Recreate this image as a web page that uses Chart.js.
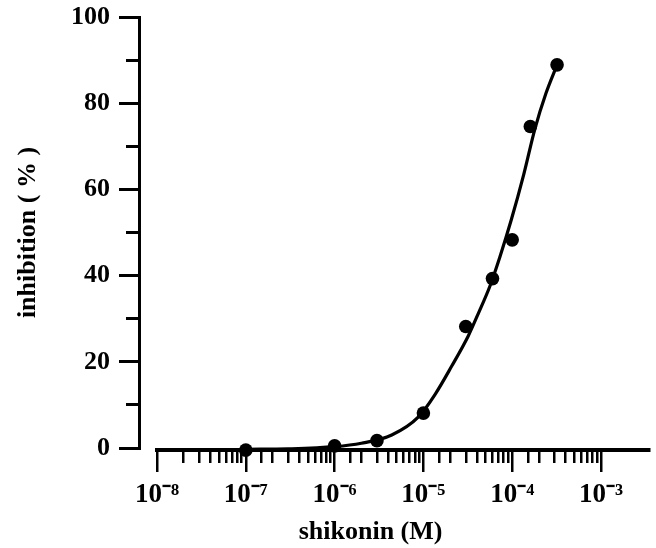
<!DOCTYPE html>
<html>
<head>
<meta charset="utf-8">
<script src="https://cdn.jsdelivr.net/npm/chart.js@4.4.1/dist/chart.umd.min.js"></script>
<style>
  html, body { margin: 0; padding: 0; background: #fff; }
  #wrap { width: 656px; height: 548px; }
</style>
</head>
<body>
<div id="wrap"><canvas id="c" width="656" height="548"></canvas></div>
<script>
// ---- data ----
const concM          = [1e-7, 1e-6, 3e-6, 1e-5, 3e-5, 6e-5, 1e-4, 1.6e-4, 3.2e-4];
const inhibitionPct  = [-0.5, 0.5, 1.7, 8.1, 28.2, 39.3, 48.3, 74.6, 88.9];

// fitted curve
const fitConcM = [1e-7, 3e-7, 1e-6, 2e-6, 4.4e-6, 8.8e-6, 1.35e-5, 2.07e-5, 3.2e-5, 4.15e-5, 5.62e-5, 7.28e-5, 9.75e-5, 1.35e-4, 1.8e-4, 2.4e-4, 3.2e-4];
const fitPct   = [-0.3, -0.2, 0.3, 1.1, 3.0, 7.2, 12.4, 18.9, 26.0, 31.2, 37.6, 44.4, 52.9, 63.5, 74.0, 82.3, 88.9];

const xDecadeExps  = [-8, -7, -6, -5, -4, -3];
const yTickLabels  = [0, 20, 40, 60, 80, 100];
const xTitle = 'shikonin (M)';
const yTitle = 'inhibition ( % )';

// ---- helpers ----
const SUP = {'-':'\u207B','0':'\u2070','1':'\u00B9','2':'\u00B2','3':'\u00B3','4':'\u2074','5':'\u2075','6':'\u2076','7':'\u2077','8':'\u2078','9':'\u2079'};
const sup = s => String(s).split('').map(c => SUP[c] || c).join('');
const decadeOf = v => {
  const l = Math.log10(v);
  const r = Math.round(l);
  return Math.abs(l - r) < 1e-6 ? r : null;
};
const FONT_FAMILY = "'Liberation Serif', 'Times New Roman', Times, serif";

const positionAxes = {
  id: 'positionAxes',
  afterLayout(chart) {
    const {x, xt, y} = chart.scales;
    const ca = chart.chartArea;
    y.left = 0; y.right = ca.left - 18; y.width = y.right - y.left;
    x.top = ca.bottom + 2; x.bottom = x.top + 58; x.height = 58;
    xt.top = 508; xt.bottom = 548; xt.height = 40;
    xt.left = 92; xt.right = ca.right; xt.width = xt.right - xt.left;
    [x, xt, y].forEach(s => { s._labelItems = null; s._gridLineItems = null; });
  }
};

new Chart(document.getElementById('c'), {
  data: {
    datasets: [
      {
        type: 'line',
        data: fitConcM.map((v, i) => ({x: v, y: fitPct[i]})),
        borderColor: '#000',
        borderWidth: 3.2,
        pointRadius: 0,
        fill: false,
        cubicInterpolationMode: 'monotone',
        clip: false,
        order: 2
      },
      {
        type: 'scatter',
        data: concM.map((v, i) => ({x: v, y: inhibitionPct[i]})),
        backgroundColor: '#000',
        borderColor: '#000',
        pointRadius: 6.8,
        pointBorderWidth: 0,
        clip: false,
        order: 1
      }
    ]
  },
  plugins: [positionAxes],
  options: {
    responsive: false,
    animation: false,
    devicePixelRatio: 1,
    layout: { padding: { top: 0, right: 6, left: 0, bottom: 0 } },
    plugins: { legend: { display: false }, tooltip: { enabled: false } },
    scales: {
      x: {
        type: 'logarithmic',
        position: 'bottom',
        min: 1e-8,
        max: 3.49e-3,
        afterFit: s => { s.height = 60; },
        afterBuildTicks: s => {
          s.ticks = s.ticks.filter(t => t.value >= 0.9999e-8 && t.value <= 1.0001e-3);
        },
        border: { display: true, color: '#000', width: 4 },
        grid: {
          drawOnChartArea: false,
          color: '#000',
          lineWidth: 2.5,
          tickWidth: 2.5,
          tickLength: 22,
          tickBorderDash: ctx => (ctx.tick && decadeOf(ctx.tick.value) !== null) ? [] : [11, 100]
        },
        ticks: {
          autoSkip: false,
          maxRotation: 0,
          padding: 7,
          color: '#000',
          font: { family: FONT_FAMILY, size: 27, weight: 'bold' },
          callback: v => {
            const e = decadeOf(v);
            return (e !== null && xDecadeExps.includes(e)) ? '10' + sup(e) : '';
          }
        },
        title: { display: false }
      },
      xt: {
        type: 'linear',
        axis: 'x',
        position: 'bottom',
        afterFit: s => { s.height = 40; },
        border: { display: false },
        grid: { display: false, drawTicks: false },
        ticks: { display: false },
        title: {
          display: true,
          text: xTitle,
          color: '#000',
          font: { family: FONT_FAMILY, size: 26, weight: 'bold' },
          padding: { top: 0, bottom: 0 }
        }
      },
      y: {
        type: 'linear',
        position: 'left',
        min: 0,
        max: 100,
        afterFit: s => { s.width = 157; s.paddingTop = 17; s.paddingBottom = 0; },
        border: { display: true, color: '#000', width: 3 },
        grid: {
          drawOnChartArea: false,
          color: '#000',
          lineWidth: 3,
          tickWidth: 3,
          tickLength: 20,
          tickBorderDash: ctx => (ctx.tick && yTickLabels.includes(ctx.tick.value)) ? [] : [0, 7, 12, 100]
        },
        ticks: {
          stepSize: 10,
          autoSkip: false,
          padding: 9,
          color: '#000',
          font: { family: FONT_FAMILY, size: 26, weight: 'bold' },
          callback: v => yTickLabels.includes(v) ? String(v) : ''
        },
        title: {
          display: true,
          text: yTitle,
          color: '#000',
          font: { family: FONT_FAMILY, size: 26, weight: 'bold' },
          padding: { top: 13, bottom: 0 }
        }
      }
    }
  }
});
</script>
</body>
</html>
